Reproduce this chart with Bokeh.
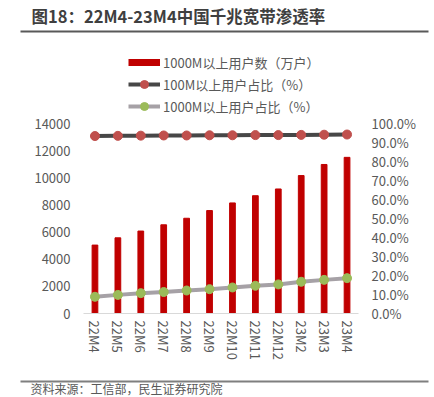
from bokeh.plotting import figure
from bokeh.models import (FactorRange, Range1d, LinearAxis, CategoricalAxis,
                          NumeralTickFormatter, FixedTicker, Label, Legend,
                          LegendItem, BoxAnnotation)
from bokeh.embed import file_html
from bokeh.resources import INLINE

months = ["22M4", "22M5", "22M6", "22M7", "22M8", "22M9", "22M10", "22M11",
          "22M12", "23M2", "23M3", "23M4"]
users_1000m = [5041, 5576, 6075, 6535, 7018, 7586, 8147, 8680, 9175, 10163, 10981, 11506]
share_100m = [0.934, 0.935, 0.936, 0.937, 0.937, 0.938, 0.938, 0.939, 0.939, 0.940, 0.941, 0.942]
share_1000m = [0.088, 0.098, 0.107, 0.113, 0.121, 0.128, 0.137, 0.146, 0.153, 0.167, 0.177, 0.186]
left_ticks = [0, 2000, 4000, 6000, 8000, 10000, 12000, 14000]
right_ticks = [i / 10 for i in range(11)]
left_max = 14000

title_text = "图18：22M4-23M4中国千兆宽带渗透率"
source_text = "资料来源：工信部，民生证券研究院"
legend_labels = ["1000M以上用户数（万户）", "100M以上用户占比（%）", "1000M以上用户占比（%）"]

FONT = "Noto Sans CJK SC"
GRAY = "#595959"

# ---- layout (page pixels)
W, H = 434, 397
FRAME_LEFT = 7                      # frame spans x 7..434, y 0..397
PLOT_L, PLOT_R = 83, 358            # plot area left/right
PLOT_T, PLOT_B = 123, 313           # plot area top/bottom
UX = (PLOT_R - PLOT_L) / len(months)
UY = (PLOT_B - PLOT_T) / left_max


def yd(py):
    return (PLOT_B - py) / UY


def sx(px):   # page x -> screen units (frame relative)
    return px - FRAME_LEFT


def sy(py):   # page y -> screen units (from frame bottom, upward)
    return H - py


pad = (PLOT_L - FRAME_LEFT) / UX
p = figure(x_range=FactorRange(*months, range_padding=pad, range_padding_units="absolute"),
           y_range=Range1d(yd(H), yd(0)),
           width=W, height=H, output_backend="svg", toolbar_location=None,
           x_axis_location=None, y_axis_location=None,
           min_border_left=FRAME_LEFT, min_border_right=0, min_border_top=0,
           min_border_bottom=0)
p.outline_line_color = None
p.xgrid.visible = False
p.ygrid.visible = False
p.extra_y_ranges = {"pct": Range1d(yd(H) / left_max, yd(0) / left_max)}

p.vbar(x=months, top=users_1000m, width=0.25, color="#c00000")
l1 = p.line(x=months, y=share_100m, y_range_name="pct", line_color="#474747", line_width=4)
s1 = p.scatter(x=months, y=share_100m, y_range_name="pct", size=9,
               fill_color="#c0504d", line_color="#c0504d")
l2 = p.line(x=months, y=share_1000m, y_range_name="pct", line_color="#a6a1a6", line_width=4)
s2 = p.scatter(x=months, y=share_1000m, y_range_name="pct", size=9,
               fill_color="#9bbb59", line_color="#9bbb59")
# single-point line: draws nothing in the plot, only provides the legend swatch
swatch = p.line(x=months[:1], y=users_1000m[:1], line_color="#c00000", line_width=7)


def style(ax):
    ax.major_tick_line_color = None
    ax.major_tick_out = 0
    ax.major_tick_in = 0
    ax.minor_tick_line_color = None
    ax.major_label_text_font = FONT
    ax.major_label_text_font_size = "13px"
    ax.major_label_text_color = GRAY


xa = CategoricalAxis(fixed_location=0, bounds=(0, len(months)))
style(xa)
xa.axis_line_color = "#d9d9d9"
xa.major_label_orientation = "vertical"
xa.major_label_standoff = 7
p.add_layout(xa, "below")

la = LinearAxis(fixed_location=0, ticker=FixedTicker(ticks=left_ticks))
style(la)
la.axis_line_color = None
la.major_label_standoff = 13
p.add_layout(la, "left")

ra = LinearAxis(y_range_name="pct", fixed_location=len(months),
                ticker=FixedTicker(ticks=right_ticks),
                formatter=NumeralTickFormatter(format="0.0%"))
style(ra)
ra.axis_line_color = None
ra.major_label_standoff = 13
p.add_layout(ra, "right")

legend = Legend(items=[LegendItem(label=legend_labels[0], renderers=[swatch]),
                       LegendItem(label=legend_labels[1], renderers=[l1, s1]),
                       LegendItem(label=legend_labels[2], renderers=[l2, s2])],
                location=(sx(128), sy(116)), orientation="vertical",
                border_line_color=None, background_fill_alpha=0,
                label_text_font=FONT, label_text_font_size="13px",
                label_text_color=GRAY, glyph_width=32, glyph_height=20,
                spacing=2, padding=0, margin=0, label_standoff=3)
p.add_layout(legend, "center")

# title, rules, source
p.add_layout(Label(x=sx(31), y=sy(15), x_units="screen", y_units="screen",
                   text=title_text, text_font=FONT,
                   text_font_size="16.5px", text_font_style="bold",
                   text_color="#3f3f3f", text_baseline="middle"))
p.add_layout(BoxAnnotation(left=sx(20), right=sx(428), top=sy(30), bottom=sy(32),
                           left_units="screen", right_units="screen",
                           top_units="screen", bottom_units="screen",
                           fill_color="#595959", fill_alpha=1, line_color=None))
p.add_layout(BoxAnnotation(left=sx(20), right=sx(428), top=sy(380), bottom=sy(382),
                           left_units="screen", right_units="screen",
                           top_units="screen", bottom_units="screen",
                           fill_color="#7f7f7f", fill_alpha=1, line_color=None))
p.add_layout(Label(x=sx(30), y=sy(388), x_units="screen", y_units="screen",
                   text=source_text, text_font=FONT,
                   text_font_size="12px", text_color=GRAY, text_baseline="middle"))

open("out.html", "w").write(file_html(p, INLINE))
